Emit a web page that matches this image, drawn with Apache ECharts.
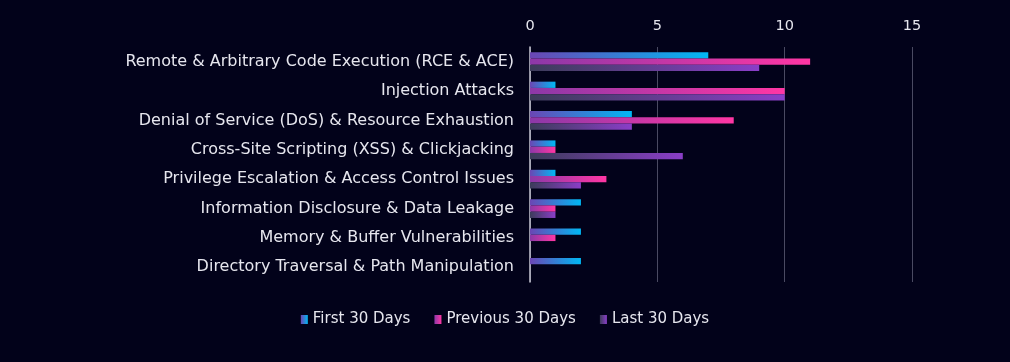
<!DOCTYPE html>
<html><head><meta charset="utf-8">
<script src="https://cdn.jsdelivr.net/npm/echarts@6/dist/echarts.min.js"></script>
<style>html,body{margin:0;padding:0;background:#02021a;}#c{width:1010px;height:362px;}</style>
</head><body><div id="c"></div>
<script>
const categories = [
  "Remote & Arbitrary Code Execution (RCE & ACE)",
  "Injection Attacks",
  "Denial of Service (DoS) & Resource Exhaustion",
  "Cross-Site Scripting (XSS) & Clickjacking",
  "Privilege Escalation & Access Control Issues",
  "Information Disclosure & Data Leakage",
  "Memory & Buffer Vulnerabilities",
  "Directory Traversal & Path Manipulation"
];
const seriesNames = ["First 30 Days", "Previous 30 Days", "Last 30 Days"];
const first30 = [7, 1, 4, 1, 1, 2, 2, 2];
const previous30 = [11, 10, 8, 1, 3, 1, 1, 0];
const last30 = [9, 10, 4, 6, 2, 1, 0, 0];
const xTicks = [0, 5, 10, 15];

function grad(a, b) {
  return new echarts.graphic.LinearGradient(0, 0, 1, 0, [
    {offset: 0, color: a}, {offset: 1, color: b}
  ]);
}
const colors = [
  grad('#6b46b4', '#00b8f4'),
  grad('#8c38a8', '#ff36a4'),
  grad('#3c3c5a', '#8a3ec8')
];
const dataSets = [first30, previous30, last30];
const font = '"DejaVu Sans", sans-serif';

const chart = echarts.init(document.getElementById('c'));
chart.setOption({
  backgroundColor: '#02021a',
  animation: false,
  grid: {left: 530, right: 98, top: 47, bottom: 80},
  legend: {
    data: seriesNames,
    bottom: 30,
    left: 'center',
    icon: 'rect',
    itemWidth: 7,
    itemHeight: 9,
    itemGap: 24,
    textStyle: {color: '#e6e6ee', fontSize: 15, fontFamily: font}
  },
  xAxis: {
    type: 'value',
    position: 'top',
    min: 0, max: 15, interval: 5,
    axisLine: {show: false},
    axisTick: {show: false},
    axisLabel: {color: '#e6e6ee', fontSize: 14.5, fontFamily: font, margin: 13,
      formatter: v => xTicks.includes(v) ? String(v) : ''},
    splitLine: {lineStyle: {color: '#4a4a62', width: 1}}
  },
  yAxis: {
    type: 'category',
    data: categories,
    inverse: true,
    axisLine: {show: true, lineStyle: {color: '#c8c8d4', width: 1.5}},
    axisTick: {show: false},
    axisLabel: {color: '#e6e6ee', fontSize: 16, fontFamily: font, margin: 16}
  },
  series: seriesNames.map((n, i) => ({
    name: n,
    type: 'bar',
    data: dataSets[i],
    barGap: '0%',
    barCategoryGap: '36%',
    itemStyle: {color: colors[i]}
  }))
});
</script>
</body></html>
